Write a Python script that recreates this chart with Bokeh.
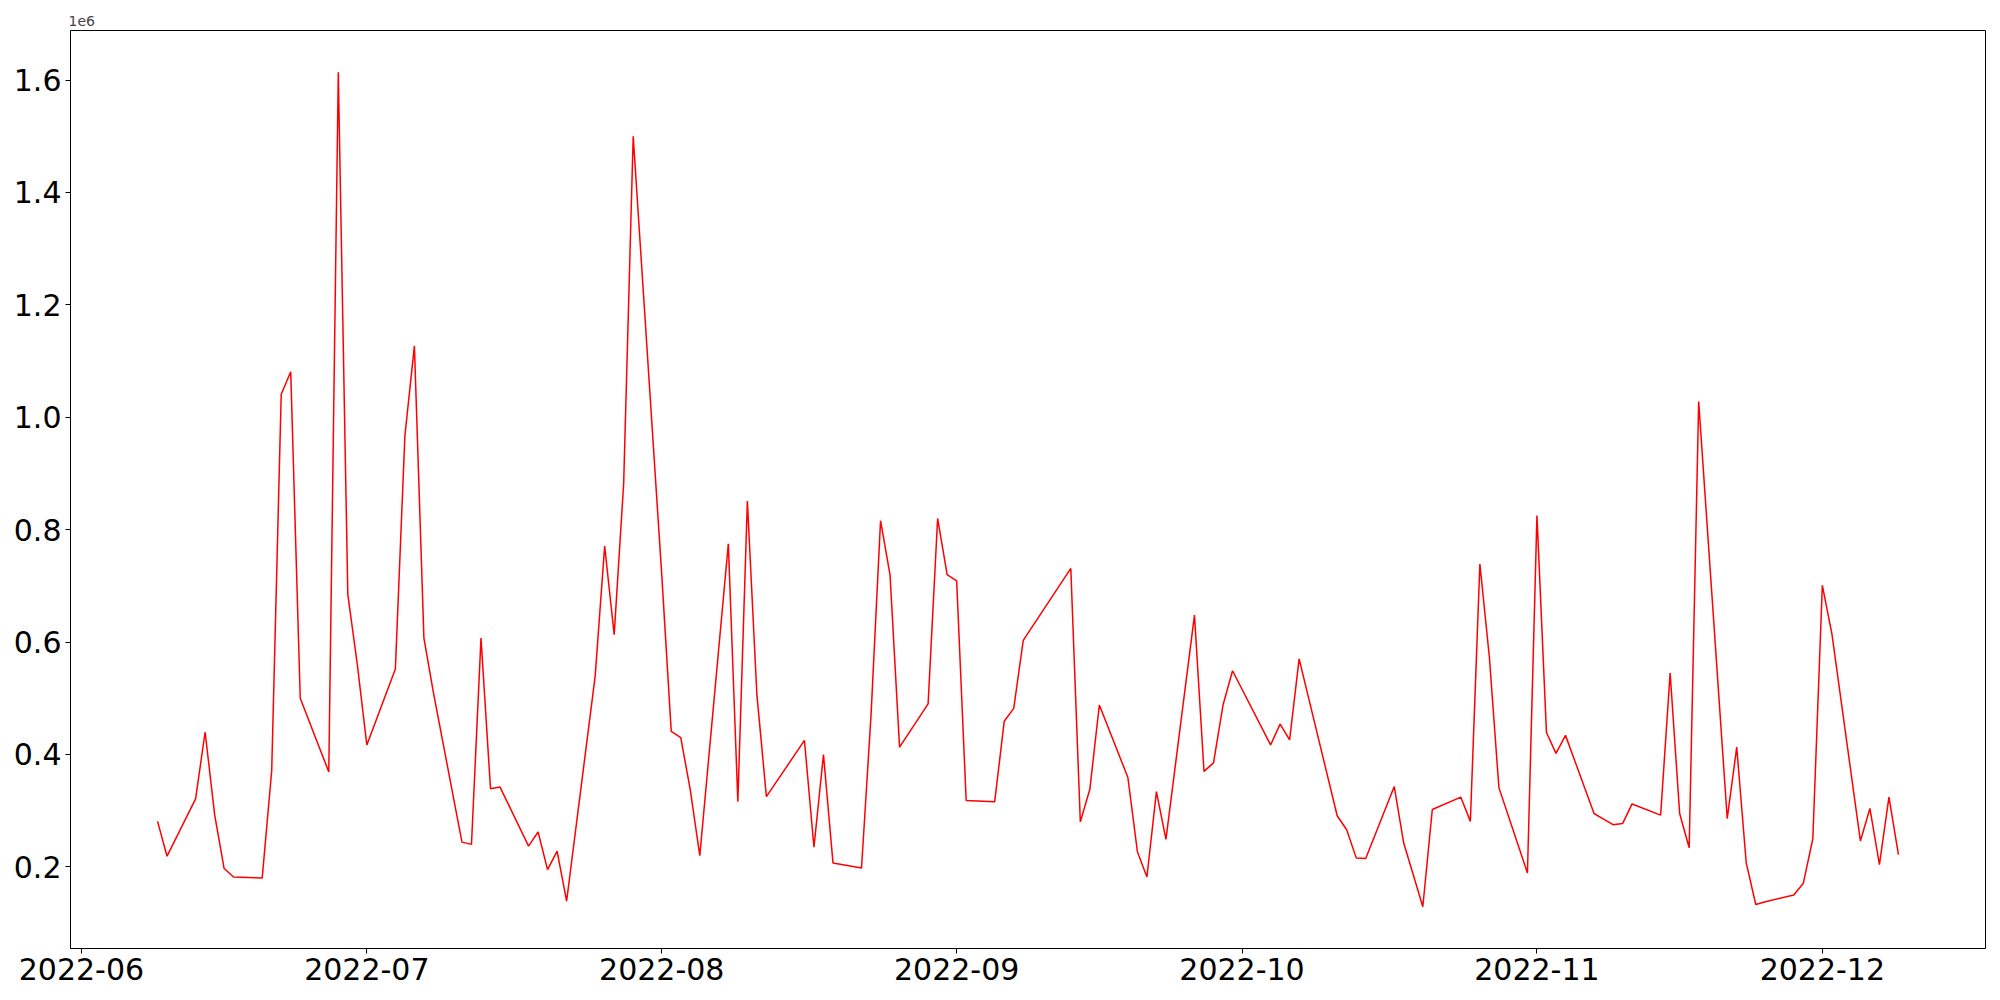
import pandas as pd
from bokeh.plotting import figure
from bokeh.models import Range1d, FixedTicker, CustomJSTickFormatter, NumeralTickFormatter
from bokeh.embed import file_html
from bokeh.resources import INLINE

dates = [
    "2022-06-09", "2022-06-10", "2022-06-13", "2022-06-14", "2022-06-15", "2022-06-16", "2022-06-17",
    "2022-06-20", "2022-06-21", "2022-06-22", "2022-06-23", "2022-06-24",
    "2022-06-27", "2022-06-28", "2022-06-29", "2022-06-30", "2022-07-01",
    "2022-07-04", "2022-07-05", "2022-07-06", "2022-07-07", "2022-07-08",
    "2022-07-11", "2022-07-12", "2022-07-13", "2022-07-14", "2022-07-15",
    "2022-07-18", "2022-07-19", "2022-07-20", "2022-07-21", "2022-07-22",
    "2022-07-25", "2022-07-26", "2022-07-27", "2022-07-28", "2022-07-29",
    "2022-08-01", "2022-08-02", "2022-08-03", "2022-08-04", "2022-08-05",
    "2022-08-08", "2022-08-09", "2022-08-10", "2022-08-11", "2022-08-12",
    "2022-08-16", "2022-08-17", "2022-08-18", "2022-08-19",
    "2022-08-22", "2022-08-23", "2022-08-24", "2022-08-25", "2022-08-26",
    "2022-08-29", "2022-08-30", "2022-08-31", "2022-09-01", "2022-09-02",
    "2022-09-05", "2022-09-06", "2022-09-07", "2022-09-08",
    "2022-09-13", "2022-09-14", "2022-09-15", "2022-09-16",
    "2022-09-19", "2022-09-20", "2022-09-21", "2022-09-22", "2022-09-23",
    "2022-09-26", "2022-09-27", "2022-09-28", "2022-09-29", "2022-09-30",
    "2022-10-04", "2022-10-05", "2022-10-06", "2022-10-07",
    "2022-10-11", "2022-10-12", "2022-10-13", "2022-10-14",
    "2022-10-17", "2022-10-18", "2022-10-19", "2022-10-20", "2022-10-21",
    "2022-10-24", "2022-10-25", "2022-10-26", "2022-10-27", "2022-10-28",
    "2022-10-31", "2022-11-01", "2022-11-02", "2022-11-03", "2022-11-04",
    "2022-11-07", "2022-11-08", "2022-11-09", "2022-11-10", "2022-11-11",
    "2022-11-14", "2022-11-15", "2022-11-16", "2022-11-17", "2022-11-18",
    "2022-11-21", "2022-11-22", "2022-11-23", "2022-11-24", "2022-11-25",
    "2022-11-28", "2022-11-29", "2022-11-30", "2022-12-01", "2022-12-02",
    "2022-12-05", "2022-12-06", "2022-12-07", "2022-12-08", "2022-12-09",
]

values_millions = [
    0.281, 0.219, 0.321, 0.440, 0.293, 0.197, 0.182,
    0.180, 0.371, 1.041, 1.081, 0.500,
    0.369, 1.614, 0.685, 0.560, 0.417,
    0.552, 0.967, 1.127, 0.607, 0.510,
    0.244, 0.240, 0.607, 0.339, 0.342,
    0.237, 0.262, 0.195, 0.228, 0.139,
    0.539, 0.771, 0.613, 0.883, 1.500,
    0.720, 0.441, 0.430, 0.337, 0.220,
    0.775, 0.316, 0.851, 0.507, 0.325,
    0.425, 0.235, 0.400, 0.207,
    0.198, 0.470, 0.816, 0.719, 0.413,
    0.490, 0.820, 0.720, 0.709, 0.318,
    0.316, 0.459, 0.482, 0.603,
    0.731, 0.280, 0.338, 0.488,
    0.359, 0.227, 0.182, 0.334, 0.249,
    0.648, 0.370, 0.385, 0.488, 0.549,
    0.417, 0.454, 0.426, 0.570,
    0.291, 0.266, 0.216, 0.215,
    0.343, 0.242, 0.186, 0.129, 0.302,
    0.324, 0.281, 0.739, 0.573, 0.341,
    0.189, 0.825, 0.439, 0.402, 0.434,
    0.295, 0.285, 0.275, 0.277, 0.312,
    0.292, 0.545, 0.295, 0.234, 1.028,
    0.286, 0.413, 0.207, 0.133, 0.138,
    0.150, 0.171, 0.250, 0.701, 0.615,
    0.246, 0.304, 0.204, 0.324, 0.222,
]

month_ticks = ["2022-06-01", "2022-07-01", "2022-08-01", "2022-09-01",
               "2022-10-01", "2022-11-01", "2022-12-01"]
y_ticks = [0.2, 0.4, 0.6, 0.8, 1.0, 1.2, 1.4, 1.6]

x = pd.to_datetime(dates)
y = values_millions

# matplotlib-like 5% margins
span_x = x.max() - x.min()
x_start = x.min() - span_x * 0.05
x_end = x.max() + span_x * 0.05
span_y = max(y) - min(y)
y_start = min(y) - span_y * 0.05
y_end = max(y) + span_y * 0.05

p = figure(width=1992, height=992, x_axis_type="datetime",
           output_backend="svg", toolbar_location=None,
           x_range=Range1d(x_start, x_end), y_range=Range1d(y_start, y_end),
           min_border_left=70, min_border_right=7, min_border_top=30, min_border_bottom=44)

p.line(x, y, line_color="red", line_width=1.5)

p.title.text = "1e6"
p.title.text_font = "DejaVu Sans"
p.title.text_font_size = "14px"
p.title.text_font_style = "normal"
p.title.align = "left"
p.title.offset = -2

p.xgrid.visible = False
p.ygrid.visible = False
p.outline_line_color = "black"
p.outline_line_width = 1
p.background_fill_color = "white"
p.border_fill_color = "white"

tick_ms = [pd.Timestamp(t).value / 1e6 for t in month_ticks]
p.xaxis.ticker = FixedTicker(ticks=tick_ms)
p.xaxis.formatter = CustomJSTickFormatter(code="""
    const d = new Date(tick);
    const m = d.getUTCMonth() + 1;
    return d.getUTCFullYear() + '-' + (m < 10 ? '0' + m : '' + m);
""")
p.yaxis.ticker = FixedTicker(ticks=y_ticks)
p.yaxis.formatter = NumeralTickFormatter(format="0.0")

for ax in (p.xaxis, p.yaxis):
    ax.major_label_text_font = "DejaVu Sans"
    ax.major_label_text_font_size = "30px"
    ax.major_label_text_color = "black"
    ax.major_tick_out = 5
    ax.major_tick_in = 0
    ax.minor_tick_out = 0
    ax.minor_tick_in = 0
    ax.axis_line_color = "black"
    ax.major_tick_line_color = "black"
    ax.major_label_standoff = 4

open("out.html", "w").write(file_html(p, INLINE))
